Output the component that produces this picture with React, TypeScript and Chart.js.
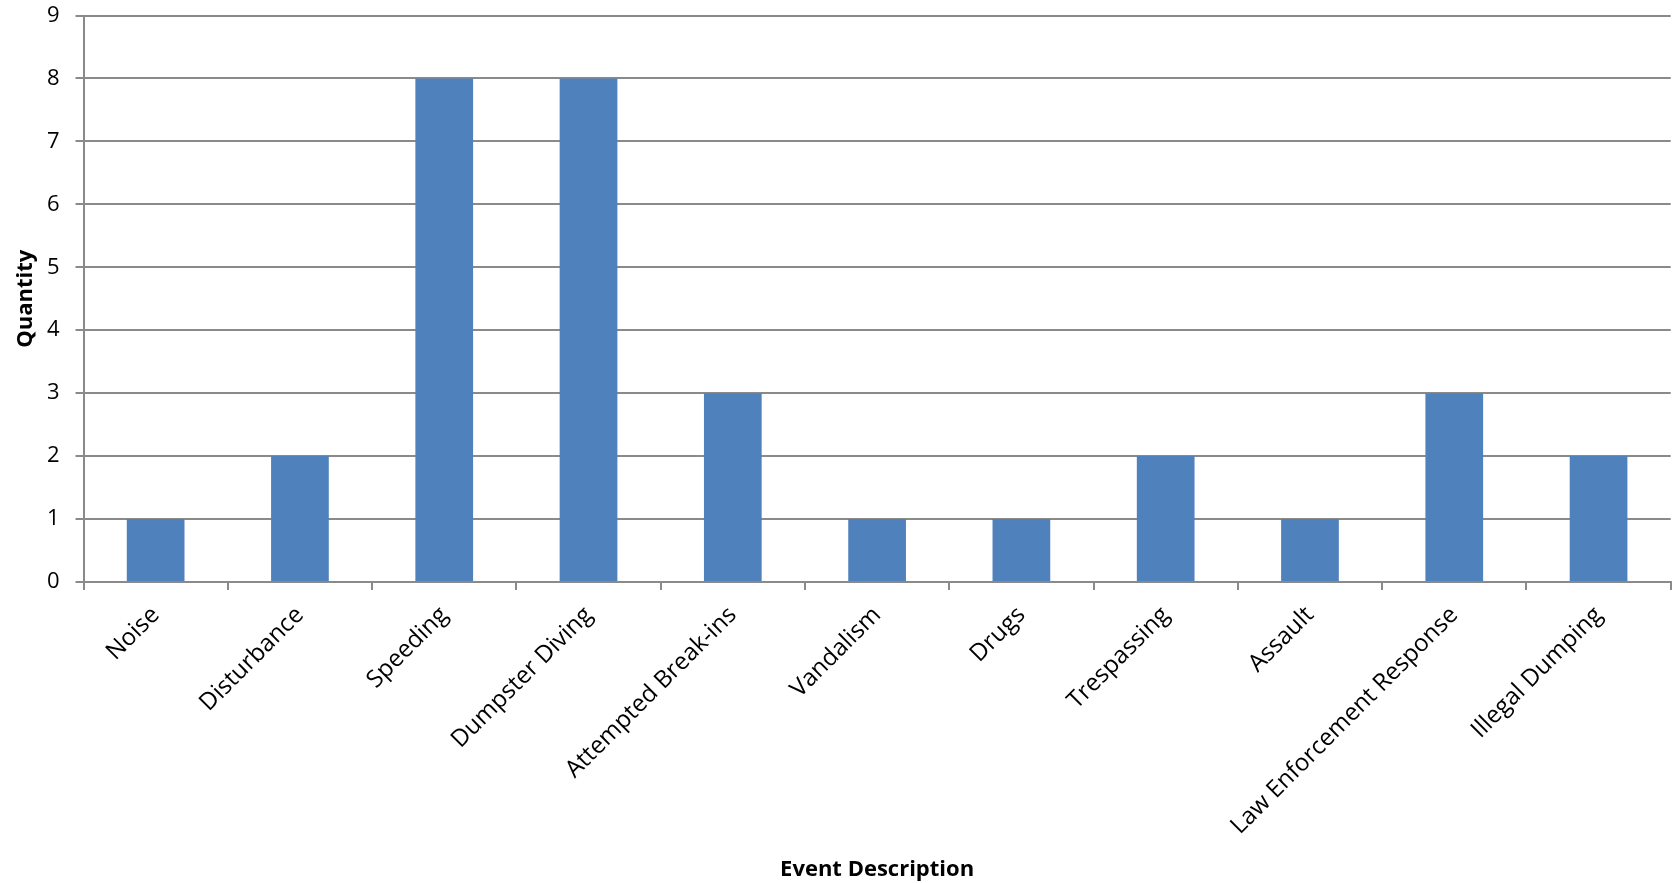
import React, { useEffect, useRef } from "react";
import { Chart, registerables } from "chart.js";

Chart.register(...registerables);

const categories = [
  "Noise",
  "Disturbance",
  "Speeding",
  "Dumpster Diving",
  "Attempted Break-ins",
  "Vandalism",
  "Drugs",
  "Trespassing",
  "Assault",
  "Law Enforcement Response",
  "Illegal Dumping",
];
const quantities = [1, 2, 8, 8, 3, 1, 1, 2, 1, 3, 2];
const yMin = 0;
const yMax = 9;
const yStep = 1;

const FONT = "'Open Sans', 'DejaVu Sans', sans-serif";
const GRID = "#8a8a8a";

export default function App() {
  const ref = useRef<HTMLCanvasElement>(null);
  useEffect(() => {
    document.body.style.margin = "0";
    const chart = new Chart(ref.current!, {
      type: "bar",
      data: {
        labels: categories,
        datasets: [
          {
            data: quantities,
            backgroundColor: "#4F81BD",
            barPercentage: 0.4,
            categoryPercentage: 1,
          },
        ],
      },
      options: {
        animation: false,
        responsive: false,
        maintainAspectRatio: false,
        layout: { padding: { left: 0, top: 15.5, right: 8.3, bottom: 0 } },
        plugins: { legend: { display: false }, tooltip: { enabled: false } },
        scales: {
          x: {
            grid: {
              offset: true,
              drawOnChartArea: false,
              drawTicks: true,
              tickLength: 8,
              color: GRID,
              lineWidth: 2,
            },
            border: { color: GRID, width: 2 },
            ticks: {
              autoSkip: false,
              maxRotation: 45,
              minRotation: 45,
              color: "#000",
              padding: 11,
              font: { family: FONT, size: 24 },
            },
            title: {
              display: true,
              text: "Event Description",
              color: "#000",
              font: { family: FONT, size: 22, weight: "bold" },
              padding: { top: 0, bottom: 0 },
            },
            afterFit: (s: any) => {
              s.height = 301;
              s.paddingLeft = 0;
              s.paddingRight = 0;
            },
          },
          y: {
            min: yMin,
            max: yMax,
            ticks: {
              stepSize: yStep,
              color: "#000",
              padding: 16,
              font: { family: FONT, size: 22 },
            },
            grid: { color: GRID, lineWidth: 2, tickLength: 8 },
            border: { color: GRID, width: 2 },
            title: {
              display: true,
              text: "Quantity",
              color: "#000",
              font: { family: FONT, size: 22, weight: "bold" },
              padding: { top: 12.5, bottom: 0 },
            },
            afterFit: (s: any) => {
              s.width = 83.5;
              s.paddingTop = 0;
              s.paddingBottom = 0;
            },
          },
        },
      },
    } as any);
    return () => chart.destroy();
  }, []);
  return (
    <div style={{ width: 1679, height: 883 }}>
      <canvas ref={ref} width={1679} height={883} style={{ display: "block" }} />
    </div>
  );
}
